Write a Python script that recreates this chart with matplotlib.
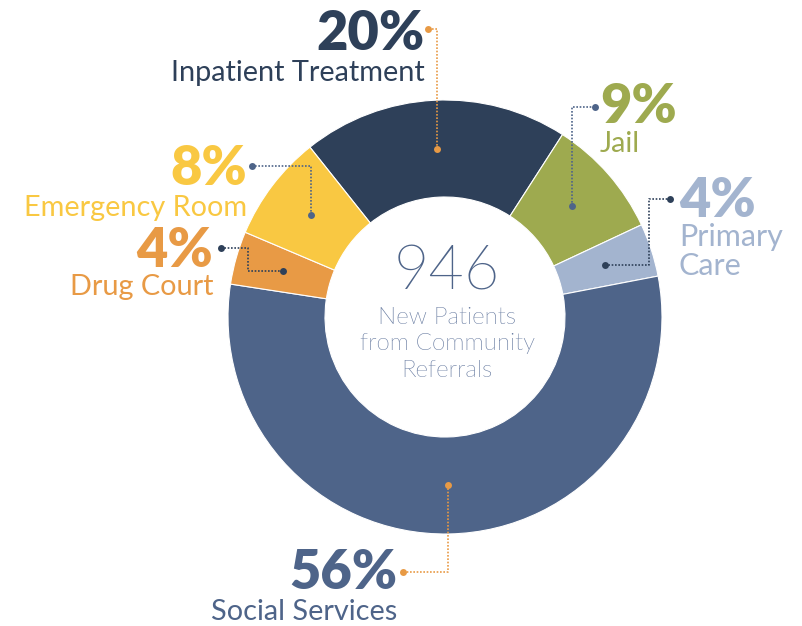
import numpy as np
import matplotlib
matplotlib.use("Agg")
import matplotlib.pyplot as plt
from matplotlib import font_manager as fm

# data
labels = ["Inpatient Treatment", "Jail", "Primary\nCare", "Social Services", "Drug Court", "Emergency Room"]
shares = [20, 9, 4, 56, 4, 8]
pct_text = ["20%", "9%", "4%", "56%", "4%", "8%"]
colors = ["#2e4059", "#9eaa4f", "#a3b4cf", "#4e6489", "#e89a45", "#f9c842"]
leader_colors = ["#e89a45", "#4e6489", "#2e4059", "#e89a45", "#2e4059", "#4e6489"]
total_patients = "946"
center_caption = "New Patients\nfrom Community\nReferrals"

W, H = 802, 626
CX, CY = 445, H - 317
R_OUT, R_IN = 217, 120

# label layout (pixel coords, y from top): pct anchor x, pct baseline, align, name baseline, name size
label_pos = [
    (425, 50, "right", 81, 20.8),
    (600, 123, "left", 152, 20.8),
    (679, 217, "left", 246, 22),
    (397, 589, "right", 620, 20.8),
    (213, 267, "right", 295, 20.8),
    (247, 185, "right", 216, 20.8),
]
# leader: end dot (x, y from top), elbow x (None -> straight up/down from wedge dot)
leader_end = [
    ((428, 29), None),
    ((595, 107), None),
    ((670, 199), 649),
    ((403, 572), None),
    ((221, 248), 248),
    ((252, 166), None),
]

plt.rcParams["font.family"] = ["Lato", "DejaVu Sans"]

# Lato Light for the centre text, if it is there
light_files = [f.fname for f in fm.fontManager.ttflist
               if "lato" in f.fname.lower() and "light" in f.fname.lower()
               and "italic" not in f.fname.lower()]
if light_files:
    light_fp = dict(fontproperties=fm.FontProperties(fname=light_files[0]))
else:
    light_fp = dict(family="Lato", fontweight="normal")

fig = plt.figure(figsize=(W / 100, H / 100), dpi=100)
ax = fig.add_axes([0, 0, 1, 1])
wedges, _ = ax.pie(shares, colors=colors, startangle=128.5, counterclock=False,
                   radius=R_OUT, center=(CX, CY),
                   wedgeprops=dict(width=R_OUT - R_IN, edgecolor="white", linewidth=0.8))
ax.set_xlim(0, W)
ax.set_ylim(0, H)
ax.set_aspect("equal")
ax.axis("off")

r_mid = (R_OUT + R_IN) / 2
for i, w in enumerate(wedges):
    mid = np.deg2rad((w.theta1 + w.theta2) / 2)
    x0 = CX + r_mid * np.cos(mid)
    y0 = CY + r_mid * np.sin(mid)
    (ex, ey), elbow = leader_end[i]
    ey = H - ey
    if elbow is None:
        xs = [x0, x0, ex]
        ys = [y0, ey, ey]
    else:
        xs = [x0, elbow, elbow, ex]
        ys = [y0, y0, ey, ey]
    c = leader_colors[i]
    ax.plot(xs, ys, color=c, lw=1.2, ls=(0, (1, 1)), zorder=3)
    ax.plot([x0, ex], [y0, ey], "o", color=c, ms=5, mec="none", zorder=4)

    px, pb, ha, nb, nsize = label_pos[i]
    ax.text(px, H - pb, pct_text[i], color=colors[i], fontsize=39, fontweight="heavy",
            ha=ha, va="baseline")
    for k, line in enumerate(labels[i].split("\n")):
        ax.text(px, H - nb - 29 * k, line, color=colors[i], fontsize=nsize,
                ha=ha, va="baseline")

ax.text(CX + 2, H - 289, total_patients, color="#4e6489", fontsize=44,
        ha="center", va="baseline", **light_fp)
for k, line in enumerate(center_caption.split("\n")):
    ax.text(CX + 2, H - 324 - 26.5 * k, line, color="#65799f", fontsize=17.4,
            ha="center", va="baseline", **light_fp)

fig.savefig("out.png", dpi=100)
